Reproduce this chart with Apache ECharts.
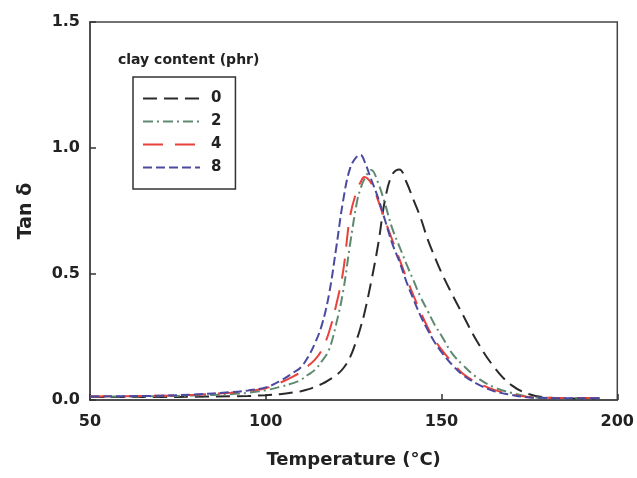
<!DOCTYPE html>
<html>
<head>
<meta charset="utf-8">
<script src="https://cdn.jsdelivr.net/npm/echarts@6/dist/echarts.min.js"></script>
<style>
html,body{margin:0;padding:0;background:#fff;}
#chart{width:637px;height:478px;}
</style>
</head>
<body>
<div id="chart"></div>
<script>
var temperature = [50, 60, 70, 80, 90, 95, 100, 104, 108, 110, 112, 114, 116, 118, 120, 122, 124, 126, 127, 128, 130, 132, 134, 136, 138, 140, 142, 144, 146, 148, 150, 153, 156, 160, 165, 170, 175, 180, 185, 190, 195];
var clay0 = [0.012, 0.012, 0.012, 0.013, 0.015, 0.016, 0.019, 0.023, 0.030, 0.035, 0.042, 0.052, 0.064, 0.080, 0.098, 0.125, 0.170, 0.245, 0.290, 0.340, 0.470, 0.620, 0.800, 0.895, 0.915, 0.865, 0.795, 0.725, 0.640, 0.570, 0.505, 0.420, 0.340, 0.235, 0.130, 0.058, 0.023, 0.010, 0.007, 0.006, 0.006];
var clay2 = [0.014, 0.014, 0.015, 0.018, 0.023, 0.029, 0.039, 0.052, 0.068, 0.080, 0.100, 0.120, 0.155, 0.200, 0.300, 0.430, 0.620, 0.790, 0.840, 0.875, 0.913, 0.860, 0.775, 0.680, 0.610, 0.540, 0.475, 0.410, 0.355, 0.300, 0.255, 0.185, 0.140, 0.090, 0.050, 0.028, 0.012, 0.008, 0.007, 0.007, 0.007];
var clay4 = [0.014, 0.015, 0.017, 0.021, 0.029, 0.036, 0.047, 0.068, 0.095, 0.112, 0.135, 0.160, 0.200, 0.270, 0.375, 0.510, 0.730, 0.835, 0.865, 0.885, 0.860, 0.790, 0.710, 0.635, 0.560, 0.485, 0.415, 0.350, 0.290, 0.240, 0.200, 0.150, 0.105, 0.070, 0.040, 0.022, 0.012, 0.009, 0.008, 0.008, 0.008];
var clay8 = [0.014, 0.015, 0.017, 0.022, 0.031, 0.038, 0.050, 0.075, 0.110, 0.130, 0.170, 0.225, 0.300, 0.420, 0.600, 0.790, 0.920, 0.968, 0.972, 0.950, 0.875, 0.800, 0.710, 0.620, 0.550, 0.470, 0.400, 0.335, 0.280, 0.230, 0.190, 0.140, 0.100, 0.065, 0.035, 0.020, 0.010, 0.008, 0.007, 0.007, 0.007];
var seriesNames = ['0', '2', '4', '8'];
var xTicks = [50, 100, 150, 200];
var yTicks = [0.0, 0.5, 1.0, 1.5];

function pairs(vals) {
  return temperature.map(function (t, i) { return [t, vals[i]]; });
}

var FONT = 'DejaVu Sans, Verdana, sans-serif';
var chart = echarts.init(document.getElementById('chart'), null, {renderer: 'canvas'});

var styles = [
  {color: '#2a2a2a', type: [14, 7]},
  {color: '#5f8a70', type: [10, 4, 2, 4]},
  {color: '#e8423c', type: [20, 12]},
  {color: '#4a4aa0', type: [9, 4]}
];
var datasets = [clay0, clay2, clay4, clay8];

chart.setOption({
  backgroundColor: '#ffffff',
  animation: false,
  grid: {left: 90, right: 17, top: 22, bottom: 78, show: true, borderColor: '#444', borderWidth: 1.5, backgroundColor: 'transparent'},
  title: {
    text: 'clay content (phr)',
    left: 113, top: 48,
    textStyle: {fontFamily: FONT, fontWeight: 'bold', fontSize: 14, color: '#222'}
  },
  legend: {
    orient: 'vertical',
    left: 133, top: 77,
    data: seriesNames,
    itemWidth: 57, itemHeight: 14, itemGap: 8,
    padding: [14, 14, 14, 9],
    borderColor: '#333', borderWidth: 1.5,
    itemStyle: {opacity: 0},
    textStyle: {fontFamily: FONT, fontWeight: 'bold', fontSize: 15, color: '#222', padding: [0, 0, 0, 6]}
  },
  xAxis: {
    type: 'value', min: 50, max: 200, interval: 50,
    name: 'Temperature (°C)', nameLocation: 'middle', nameGap: 51,
    nameTextStyle: {fontFamily: FONT, fontWeight: 'bold', fontSize: 18, color: '#222'},
    axisLine: {show: true, lineStyle: {color: '#444', width: 1.5}},
    axisTick: {show: true, inside: true, length: 6, lineStyle: {color: '#333', width: 1.5}},
    axisLabel: {fontFamily: FONT, fontWeight: 'bold', fontSize: 16, color: '#222', margin: 14,
      formatter: function (v) { return xTicks.indexOf(v) >= 0 ? String(v) : ''; }},
    splitLine: {show: false}
  },
  yAxis: {
    type: 'value', min: 0, max: 1.5, interval: 0.5,
    name: 'Tan δ', nameLocation: 'middle', nameGap: 54,
    nameTextStyle: {fontFamily: FONT, fontWeight: 'bold', fontSize: 19, color: '#222'},
    axisLine: {show: true, lineStyle: {color: '#444', width: 1.5}},
    axisTick: {show: true, inside: true, length: 6, lineStyle: {color: '#333', width: 1.5}},
    axisLabel: {fontFamily: FONT, fontWeight: 'bold', fontSize: 16, color: '#222', margin: 10,
      formatter: function (v) { return v.toFixed(1); }},
    splitLine: {show: false}
  },
  series: seriesNames.map(function (n, i) {
    return {
      name: n, type: 'line', smooth: 0.4, showSymbol: false, symbol: 'none',
      data: pairs(datasets[i]),
      itemStyle: {color: styles[i].color},
      lineStyle: {color: styles[i].color, width: 2, type: styles[i].type}
    };
  })
});
</script>
</body>
</html>
